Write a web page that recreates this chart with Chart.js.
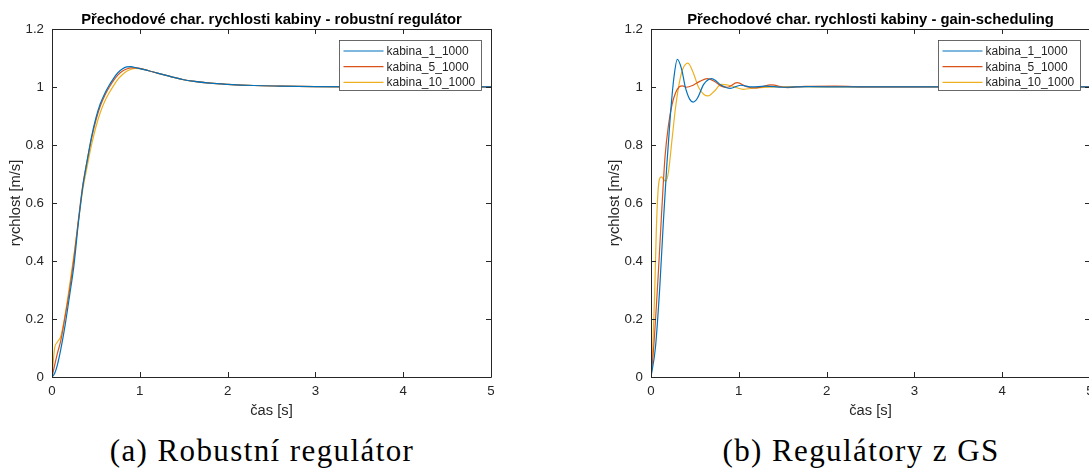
<!DOCTYPE html>
<html>
<head>
<meta charset="utf-8">
<script src="https://cdn.jsdelivr.net/npm/chart.js@4.4.0/dist/chart.umd.min.js"></script>
<style>
  html, body { margin: 0; padding: 0; background: #fff; width: 1089px; height: 468px; overflow: hidden; }
  body { position: relative; }
  .plot { position: absolute; top: 0; width: 543px; height: 420px; }
  .caption {
    position: absolute; top: 435px;
    font-family: "Liberation Serif", serif; font-size: 31px; line-height: 31px;
    letter-spacing: 1.4px; white-space: nowrap; transform: translateX(-50%); color: #000;
  }
</style>
</head>
<body>
<div class="plot" style="left:0"><canvas id="robustChart"></canvas></div>
<div class="plot" style="left:599px"><canvas id="gsChart"></canvas></div>
<div class="caption" style="left:262px">(a) Robustní regulátor</div>
<div class="caption" style="left:861px">(b) Regulátory z GS</div>
<script>
// step responses of cabin speed, robust controller
const tRobust = [0, 0.03, 0.06, 0.1, 0.15, 0.2, 0.25, 0.3, 0.35, 0.4, 0.45, 0.5, 0.55, 0.6, 0.65, 0.7, 0.75, 0.8, 0.85, 0.9, 0.95, 1.0,
  1.1, 1.2, 1.3, 1.4, 1.5, 1.6, 1.8, 2.0, 2.3, 2.6, 3.0, 3.5, 4.0, 5.0];
const robust1 = [0, 0.012, 0.04, 0.095, 0.18, 0.28, 0.385, 0.53, 0.655, 0.745, 0.828, 0.893, 0.942, 0.977, 1.005, 1.029, 1.049, 1.062, 1.069, 1.07, 1.067, 1.063,
  1.056, 1.048, 1.04, 1.032, 1.025, 1.02, 1.013, 1.009, 1.005, 1.003, 1.001, 1.0, 1.0, 1.0];
const robust5 = [0, 0.04, 0.08, 0.125, 0.21, 0.3, 0.41, 0.54, 0.66, 0.745, 0.822, 0.885, 0.934, 0.97, 0.998, 1.022, 1.041, 1.054, 1.062, 1.066, 1.066, 1.064,
  1.056, 1.048, 1.04, 1.032, 1.025, 1.02, 1.013, 1.009, 1.005, 1.003, 1.001, 1.0, 1.0, 1.0];
const robust10 = [0, 0.1, 0.12, 0.14, 0.215, 0.315, 0.42, 0.535, 0.645, 0.725, 0.8, 0.862, 0.912, 0.95, 0.979, 1.004, 1.026, 1.042, 1.054, 1.061, 1.064, 1.063,
  1.056, 1.048, 1.04, 1.032, 1.025, 1.02, 1.013, 1.009, 1.005, 1.003, 1.001, 1.0, 1.0, 1.0];

// step responses with gain-scheduled controllers
const tGs1 = [0, 0.05, 0.1, 0.14, 0.18, 0.22, 0.26, 0.3, 0.35, 0.39, 0.44, 0.48, 0.53, 0.6, 0.69, 0.8, 0.9, 1.02, 1.15, 1.3, 1.5, 1.8, 2.2, 3.0, 4.0, 5.0];
const gs1 = [0, 0.1, 0.31, 0.53, 0.73, 0.9, 1.03, 1.095, 1.06, 1.0, 0.958, 0.948, 0.962, 1.009, 1.029, 1.006, 0.995, 1.006, 1.0, 1.003, 0.999, 1.001, 1.0, 1.0, 1.0, 1.0];
const tGs5 = [0, 0.03, 0.08, 0.12, 0.16, 0.2, 0.24, 0.28, 0.32, 0.36, 0.4, 0.48, 0.56, 0.64, 0.72, 0.8, 0.87, 0.98, 1.1, 1.2, 1.37, 1.55, 1.75, 2.1, 2.5, 3.0, 4.0, 5.0];
const gs5 = [0, 0.1, 0.34, 0.56, 0.76, 0.87, 0.94, 0.98, 1.0, 1.004, 0.999, 1.006, 1.02, 1.029, 1.02, 1.003, 0.999, 1.015, 1.0, 0.997, 1.007, 0.998, 1.002, 1.003, 1.0, 1.0, 1.0, 1.0];
const tGs10 = [0, 0.02, 0.04, 0.06, 0.08, 0.1, 0.12, 0.145, 0.17, 0.2, 0.24, 0.28, 0.32, 0.36, 0.42, 0.48, 0.54, 0.6, 0.65, 0.72, 0.8, 0.9, 1.05, 1.2, 1.4, 1.7, 2.0, 3.0, 4.0, 5.0];
const gs10 = [0, 0.1, 0.27, 0.5, 0.64, 0.685, 0.69, 0.68, 0.675, 0.71, 0.82, 0.93, 1.01, 1.06, 1.082, 1.05, 1.0, 0.975, 0.969, 0.985, 1.009, 1.005, 0.992, 0.997, 1.0, 1.001, 1.0, 1.0, 1.0, 1.0];

const seriesLabels = ["kabina_1_1000", "kabina_5_1000", "kabina_10_1000"];
const seriesColors = ["#0072BD", "#D95319", "#EDB120"];
const xTitle = "čas [s]";
const yTitle = "rychlost [m/s]";

const axisColor = "#262626";
const fontFamily = "'Liberation Sans', Arial, Helvetica, sans-serif";

// box around the axes with inward ticks, plus the legend in the upper right corner
const boxPlugin = {
  id: "matlabBox",
  afterDatasetsDraw(chart) {
    const { ctx, chartArea: a, scales } = chart;
    const x = scales.x, y = scales.y;
    const tl = 5;
    ctx.save();
    ctx.strokeStyle = axisColor;
    ctx.lineWidth = 1;
    ctx.beginPath();
    ctx.rect(Math.round(a.left) + 0.5, Math.round(a.top) + 0.5, Math.round(a.right - a.left), Math.round(a.bottom - a.top));
    x.ticks.forEach(t => {
      const px = Math.round(x.getPixelForValue(t.value)) + 0.5;
      ctx.moveTo(px, a.bottom); ctx.lineTo(px, a.bottom - tl);
      ctx.moveTo(px, a.top); ctx.lineTo(px, a.top + tl);
    });
    y.ticks.forEach(t => {
      const py = Math.round(y.getPixelForValue(t.value)) + 0.5;
      ctx.moveTo(a.left, py); ctx.lineTo(a.left + tl, py);
      ctx.moveTo(a.right, py); ctx.lineTo(a.right - tl, py);
    });
    ctx.stroke();

    // legend
    const lw = 142, lh = 50;
    const lx = Math.round(a.right - 10 - lw) + 0.5;
    const ly = Math.round(a.top + 11) + 0.5;
    ctx.fillStyle = "#fff";
    ctx.fillRect(lx, ly, lw, lh);
    ctx.strokeStyle = "#444";
    ctx.lineWidth = 0.8;
    ctx.strokeRect(lx, ly, lw, lh);
    ctx.font = "12px " + fontFamily;
    ctx.textBaseline = "middle";
    ctx.textAlign = "left";
    chart.data.datasets.forEach((ds, i) => {
      const ry = ly + 10.5 + i * 15.7;
      ctx.strokeStyle = ds.borderColor;
      ctx.lineWidth = 1.2;
      ctx.beginPath();
      ctx.moveTo(lx + 4, ry); ctx.lineTo(lx + 44, ry);
      ctx.stroke();
      ctx.fillStyle = axisColor;
      ctx.fillText(ds.label, lx + 47, ry + 0.5);
    });
    ctx.restore();
  }
};

function makeChart(id, titleText, times, values) {
  const datasets = values.map((v, i) => ({
    label: seriesLabels[i],
    data: times[i].map((t, k) => ({ x: t, y: v[k] })),
    borderColor: seriesColors[i],
    borderWidth: 1.2,
    pointRadius: 0,
    fill: false,
    cubicInterpolationMode: "monotone",
  }));
  return new Chart(document.getElementById(id), {
    type: "line",
    data: { datasets },
    options: {
      responsive: true,
      maintainAspectRatio: false,
      animation: false,
      events: [],
      layout: { padding: { left: 0, right: 52, top: 0, bottom: 0 } },
      plugins: {
        legend: { display: false },
        tooltip: { enabled: false },
        title: {
          display: true,
          fullSize: false,
          text: titleText,
          color: "#000",
          font: { family: fontFamily, size: 14.8, weight: "bold" },
          padding: { top: 11.1, bottom: 0.1 },
        },
      },
      scales: {
        x: {
          type: "linear",
          min: 0,
          max: 5,
          grid: { display: false, drawTicks: false },
          border: { display: false },
          ticks: { stepSize: 1, padding: 6.7, color: axisColor, font: { family: fontFamily, size: 13.3 } },
          title: { display: true, text: xTitle, color: axisColor, font: { family: fontFamily, size: 14.7 }, padding: { top: 0, bottom: 0 } },
          afterFit: s => { s.height = 43; },
        },
        y: {
          type: "linear",
          min: 0,
          max: 1.2,
          grid: { display: false, drawTicks: false },
          border: { display: false },
          ticks: {
            stepSize: 0.2, padding: 8, color: axisColor, font: { family: fontFamily, size: 13.3 },
            callback: v => String(+v.toFixed(1)),
          },
          title: { display: true, text: yTitle, color: axisColor, font: { family: fontFamily, size: 14.7 }, padding: { top: 7.2, bottom: 0 } },
          afterFit: s => { s.width = 52; },
        },
      },
    },
    plugins: [boxPlugin],
  });
}

makeChart("robustChart", "Přechodové char. rychlosti kabiny - robustní regulátor",
  [tRobust, tRobust, tRobust], [robust1, robust5, robust10]);
makeChart("gsChart", "Přechodové char. rychlosti kabiny - gain-scheduling",
  [tGs1, tGs5, tGs10], [gs1, gs5, gs10]);
</script>
</body>
</html>
